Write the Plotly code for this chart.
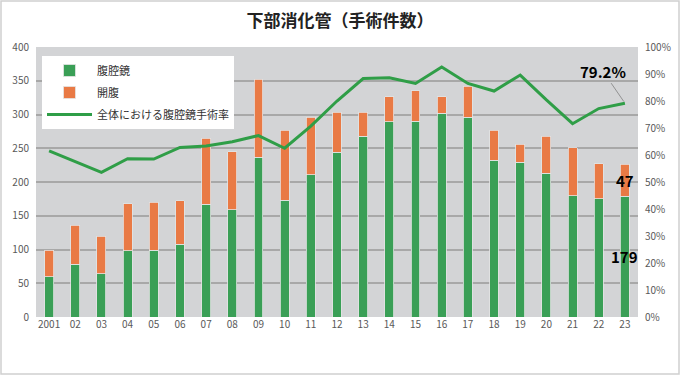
import plotly.graph_objects as go

years = ["2001", "02", "03", "04", "05", "06", "07", "08", "09", "10", "11", "12",
         "13", "14", "15", "16", "17", "18", "19", "20", "21", "22", "23"]
laparoscopic = [60, 78, 64, 98, 99, 108, 167, 159, 237, 173, 211, 244,
                268, 289, 290, 302, 296, 232, 229, 213, 180, 175, 179]
open_surgery = [39, 58, 56, 70, 71, 64, 98, 86, 115, 104, 85, 59,
                35, 37, 45, 24, 46, 45, 27, 55, 71, 52, 47]
lap_rate = [61.5, 57.5, 53.6, 58.6, 58.5, 62.8, 63.3, 64.9, 67.2, 62.5, 70.7, 80.0,
            88.3, 88.6, 86.5, 92.6, 86.5, 83.7, 89.6, 80.4, 71.6, 77.2, 79.2]

GREEN = "#3a9f56"
ORANGE = "#e97a45"
LINE = "#2f9e47"
FONT = "Noto Sans CJK JP"

fig = go.Figure()
fig.add_trace(go.Bar(x=years, y=laparoscopic, name="腹腔鏡", marker_color=GREEN,
                     marker_line=dict(color="#e4e4e4", width=0.8), width=0.34,
                     legendgroup="a"))
fig.add_trace(go.Bar(x=years, y=open_surgery, name="開腹", marker_color=ORANGE,
                     marker_line=dict(color="#e4e4e4", width=0.8), width=0.34,
                     legendgroup="b"))
fig.add_trace(go.Scatter(x=years, y=lap_rate, name="全体における腹腔鏡手術率", yaxis="y2",
                         mode="lines", line=dict(color=LINE, width=3), legendgroup="c"))

last = len(years) - 1
fig.add_annotation(x=last, y=laparoscopic[-1] + open_surgery[-1] / 2, text=f"<b>{open_surgery[-1]}</b>",
                   showarrow=False, font=dict(size=15, color="black", family=FONT))
fig.add_annotation(x=last, y=laparoscopic[-1] / 2, text=f"<b>{laparoscopic[-1]}</b>",
                   showarrow=False, font=dict(size=15, color="black", family=FONT))
fig.add_annotation(x=last, y=lap_rate[-1], yref="y2", text=f"<b>{lap_rate[-1]:.1f}%</b>",
                   showarrow=True, arrowhead=0, arrowwidth=0.8, arrowcolor="#808080",
                   ax=-22, ay=-32, standoff=2,
                   font=dict(size=15, color="black", family=FONT))

W, H = 680, 375
L, R, T, B = 36, 42, 47, 58
pw, ph = W - L - R, H - T - B
fig.add_shape(type="rect", xref="paper", yref="paper",
              x0=-(L - 1) / pw, x1=1 + (R - 1) / pw, y0=-(B - 1) / ph, y1=1 + (T - 1) / ph,
              line=dict(color="#d0d0d0", width=1.5), fillcolor="rgba(0,0,0,0)", layer="below")

fig.update_layout(
    width=W, height=H,
    margin=dict(l=L, r=R, t=T, b=B, autoexpand=False),
    paper_bgcolor="white", plot_bgcolor="#d3d4d6",
    barmode="stack", bargap=0.66,
    font=dict(family=FONT, color="#595959", size=10),
    title=dict(text="<b>下部消化管（手術件数）</b>", x=0.5, xanchor="center",
               y=1 - 21 / H, yanchor="middle", yref="container",
               font=dict(size=17, color="#222222", family=FONT)),
    xaxis=dict(type="category", showgrid=False, ticks="", tickfont=dict(size=10, color="#595959"),
               showline=False, zeroline=False, automargin=False, range=[-0.5, len(years) - 0.5]),
    yaxis=dict(range=[0, 400], dtick=50, showgrid=True, gridcolor="#a8a8a8", gridwidth=1.5,
               zeroline=False, ticks="", tickfont=dict(size=10, color="#595959"), ticklabelstandoff=6,
               automargin=False),
    yaxis2=dict(range=[0, 100], dtick=10, overlaying="y", side="right", showgrid=False,
                ticksuffix="%", zeroline=False, ticks="", tickfont=dict(size=10, color="#595959"),
                ticklabelstandoff=6, automargin=False),
    showlegend=True,
    legend=dict(x=(42 - L) / pw, y=1 - (56 - T) / ph, xanchor="left", yanchor="top",
                bgcolor="white", font=dict(size=11, color="#333333", family=FONT),
                tracegroupgap=3, traceorder="grouped", itemwidth=45,
                borderwidth=0),
)

fig.write_html("out.html", config={"displayModeBar": False},
               post_script="document.body.style.margin='0';")
